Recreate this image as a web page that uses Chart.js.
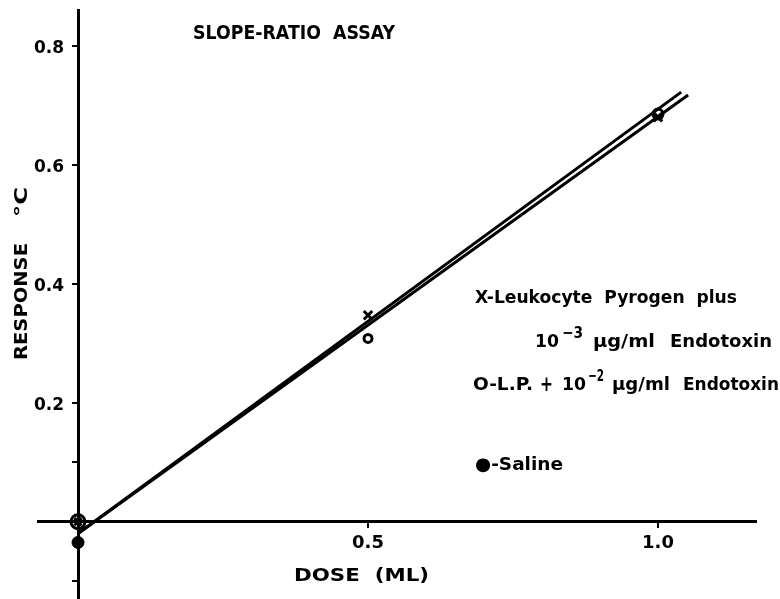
<!DOCTYPE html>
<html lang="en">
<head>
<meta charset="UTF-8">
<title>Slope-Ratio Assay</title>
<script src="https://cdn.jsdelivr.net/npm/chart.js"></script>
<style>
  html, body { margin: 0; padding: 0; background: #fff; }
  #wrap { width: 780px; height: 599px; }
</style>
</head>
<body>
<div id="wrap"><canvas id="assayChart"></canvas></div>
<script>
// readings taken off the figure (dose in ml, response in degC)
const doses = [0, 0.5, 1.0];
const pyrogenLow = [0, 0.347, 0.68];     // X : L.P. + 10^-3 ug/ml endotoxin
const pyrogenHigh = [0, 0.308, 0.685];   // O : L.P. + 10^-2 ug/ml endotoxin
const salineDose = [0];
const salineResp = [-0.035];

// the two fitted lines, end points
const fitXDose = [0, 1.04];
const fitXResp = [-0.02, 0.722];
const fitODose = [0, 1.052];
const fitOResp = [-0.02, 0.717];

const xTicks = [0.5, 1.0];
const xTickLabels = ['0.5', '1.0'];
const yTicks = [-0.1, 0, 0.1, 0.2, 0.4, 0.6, 0.8];
const yTickLabels = ['', '', '', '0.2', '0.4', '0.6', '0.8'];

const FONT = '"DejaVu Sans", sans-serif';

function pts(xs, ys) {
    return xs.map((x, i) => ({ x: x, y: ys[i] }));
}

// left aligned text, squeezed to a given width when asked
function txt(ctx, str, x, y, size, width) {
    ctx.save();
    ctx.font = 'bold ' + size + 'px ' + FONT;
    ctx.textAlign = 'left';
    ctx.textBaseline = 'middle';
    ctx.translate(x, y);
    if (width) {
        const w = ctx.measureText(str).width;
        ctx.scale(width / w, 1);
    }
    ctx.fillText(str, 0, 0);
    ctx.restore();
}

const labelsPlugin = {
    id: 'labels',
    afterDraw(chart) {
        const ctx = chart.ctx;
        const xs = chart.scales.x, ys = chart.scales.y;
        ctx.fillStyle = '#000';

        // y tick labels, to the left of the tick marks
        const x0 = xs.getPixelForValue(0);
        ctx.save();
        ctx.font = 'bold 17px ' + FONT;
        ctx.textAlign = 'right';
        ctx.textBaseline = 'middle';
        yTicks.forEach((v, i) => {
            if (yTickLabels[i]) ctx.fillText(yTickLabels[i], x0 - 14, ys.getPixelForValue(v) + 3);
        });
        ctx.restore();

        txt(ctx, 'SLOPE-RATIO  ASSAY', 193, 34, 19, 202);
        txt(ctx, 'DOSE  (ML)', 294, 576, 18, 135);

        // rotated y title
        ctx.save();
        ctx.translate(22, 360);
        ctx.rotate(-Math.PI / 2);
        txt(ctx, 'RESPONSE', 0, 0, 18, 117);
        txt(ctx, '\u00B0C', 143, 0, 18, 30);
        ctx.restore();

        // key
        txt(ctx, 'X-Leukocyte  Pyrogen  plus', 475, 298, 18, 262);
        txt(ctx, '10', 535, 342, 18, 24);
        txt(ctx, '\u22123', 562, 334, 16, 21);
        txt(ctx, '\u00B5g/ml', 593, 342, 18, 62);
        txt(ctx, 'Endotoxin', 670, 342, 18, 102);
        txt(ctx, 'O-L.P.', 473, 385, 18, 60);
        txt(ctx, '+', 540, 385, 22, 13);
        txt(ctx, '10', 562, 385, 18, 24);
        txt(ctx, '\u22122', 588, 377, 16, 16);
        txt(ctx, '\u00B5g/ml', 612, 385, 18, 58);
        txt(ctx, 'Endotoxin', 683, 385, 18, 96);
        txt(ctx, '\u25CF-Saline', 475, 465, 18, 88);
    }
};

new Chart(document.getElementById('assayChart').getContext('2d'), {
    type: 'scatter',
    data: {
        datasets: [{
            label: 'X-Leukocyte Pyrogen plus 10^-3 ug/ml Endotoxin',
            data: pts(doses, pyrogenLow),
            pointStyle: 'crossRot',
            pointRadius: ctx => ctx.dataIndex === 0 ? 5 : 6,
            pointBorderWidth: 3,
            borderColor: '#000',
            backgroundColor: '#000'
        }, {
            label: 'O-L.P. + 10^-2 ug/ml Endotoxin',
            data: pts(doses, pyrogenHigh),
            pointStyle: 'circle',
            pointRadius: ctx => [7, 4, 5][ctx.dataIndex],
            pointBorderWidth: 3,
            borderColor: '#000',
            backgroundColor: 'rgba(0,0,0,0)'
        }, {
            label: 'Saline',
            data: pts(salineDose, salineResp),
            pointStyle: 'circle',
            pointRadius: 6,
            borderColor: '#000',
            backgroundColor: '#000'
        }, {
            label: 'fit X',
            data: pts(fitXDose, fitXResp),
            showLine: true,
            pointRadius: 0,
            borderColor: '#000',
            borderWidth: 3
        }, {
            label: 'fit O',
            data: pts(fitODose, fitOResp),
            showLine: true,
            pointRadius: 0,
            borderColor: '#000',
            borderWidth: 3
        }]
    },
    options: {
        responsive: true,
        maintainAspectRatio: false,
        animation: false,
        events: [],
        layout: { padding: { left: 38, right: 24, top: 10, bottom: -13 }, autoPadding: false },
        plugins: {
            legend: { display: false },
            tooltip: { enabled: false }
        },
        scales: {
            x: {
                type: 'linear',
                min: -0.069,
                max: 1.169,
                position: { y: 0 },
                border: { color: '#000', width: 3 },
                grid: { drawOnChartArea: false, drawTicks: true, tickLength: 5, color: '#000', lineWidth: 2 },
                ticks: {
                    color: '#000',
                    font: { family: FONT, size: 18, weight: 'bold' },
                    padding: 6,
                    maxRotation: 0,
                    autoSkip: false,
                    callback: (v, i) => xTickLabels[i]
                },
                afterBuildTicks: s => { s.ticks = xTicks.map(v => ({ value: v })); }
            },
            y: {
                type: 'linear',
                min: -0.13,
                max: 0.86,
                position: { x: 0 },
                border: { color: '#000', width: 3 },
                grid: { drawOnChartArea: false, drawTicks: true, tickLength: 5, color: '#000', lineWidth: 2 },
                ticks: {
                    display: false,
                    autoSkip: false
                },
                afterBuildTicks: s => { s.ticks = yTicks.map(v => ({ value: v })); }
            }
        }
    },
    plugins: [labelsPlugin]
});
</script>
</body>
</html>
